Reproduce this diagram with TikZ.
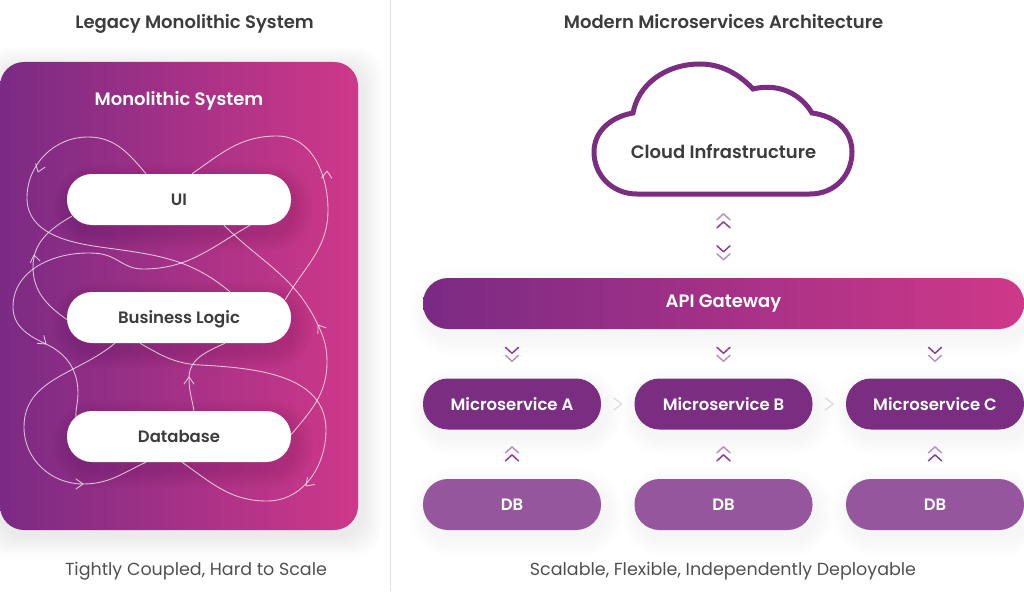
\documentclass[tikz,border=0pt]{standalone}
\usepackage{fontspec}
\setmainfont{Poppins}[BoldFont={Poppins SemiBold}]
\usetikzlibrary{calc,backgrounds}
\definecolor{plumL}{HTML}{7A2A84}
\definecolor{plumR}{HTML}{CF3889}
\definecolor{plum}{HTML}{7B2D82}
\definecolor{plumDB}{HTML}{95569E}
\definecolor{chevD}{HTML}{8A3E92}
\definecolor{chevL}{HTML}{BB90C2}
\definecolor{inkgray}{HTML}{3C3C3C}
\tikzset{
  level/.style={text height=14pt,text depth=2pt,inner sep=0pt},
  pill/.style={level,rounded corners=25pt,minimum height=51pt,font=\fontsize{16.5}{18}\selectfont\bfseries},
  whitepill/.style={pill,fill=white,text=inkgray,minimum width=224pt},
  servicepill/.style={pill,fill=plum,text=white,minimum width=178pt},
  dbpill/.style={pill,fill=plumDB,text=white,minimum width=178pt},
  headline/.style={level,font=\fontsize{18}{20}\selectfont\bfseries,text=inkgray},
  caption/.style={level,font=\fontsize{17.5}{20}\selectfont,text=inkgray!90},
  wave/.style={draw=white,opacity=.7,line width=.9pt},
  chevron/.style={line width=1.5pt,line cap=round,line join=round}
}
\begin{document}
\begin{tikzpicture}[x=1pt,y=-1pt]
  \useasboundingbox (0,0) rectangle (1024,591);
  \draw[black!12,line width=.8pt] (390.5,0)--(390.5,591);
  \node[headline] (lefttitle) at (194.5,23) {Legacy Monolithic System};
  \node[headline] (righttitle) at (723.5,23) {Modern Microservices Architecture};
  \node[caption] (leftnote) at (196,569) {Tightly Coupled, Hard to Scale};
  \node[caption] (rightnote) at (723,569) {Scalable, Flexible, Independently Deployable};
  \foreach \n/\y/\t in {ui/199.5/UI,logic/317.5/Business Logic,store/436.5/Database}{%
    \node[whitepill] (\n) at (179,\y) {\t};
  }
  \foreach \n/\x/\t in {msa/512/Microservice A,msb/723.5/Microservice B,msc/935/Microservice C}{%
    \node[servicepill] (\n) at (\x,404) {\t};
  }
  \foreach \n/\x in {dba/512,dbb/723.5,dbc/935}{%
    \node[dbpill] (\n) at (\x,504.5) {DB};
  }
  \node[pill,text height=12pt,text depth=4pt,font=\fontsize{18}{20}\selectfont\bfseries,minimum width=601pt,left color=plumL,right color=plumR,text=white] (gateway) at (723.5,303.5) {API Gateway};
  \draw[plum,line width=5pt,fill=white] (637,194)--(810,194)
    .. controls (835,194) and (852,175) .. (852,152)
    .. controls (852,130) and (835,116) .. (812,113)
    .. controls (800,93) and (778,83) .. (753,89)
    .. controls (738,73) and (720,64) .. (700,64)
    .. controls (665,64) and (638,85) .. (633,113)
    .. controls (610,117) and (594,132) .. (594,152)
    .. controls (594,175) and (612,194) .. (637,194)--cycle;
  \node[headline] (cloud) at (723.5,152) {Cloud Infrastructure};
  % chevrons
  \foreach \n in {msa,msb,msc}{%
    \begin{scope}[shift={(\n.north)}]
      \draw[chevron,chevD] (-6.5,-31)--(0,-25)--(6.5,-31);
      \draw[chevron,chevL] (-6.5,-23)--(0,-17)--(6.5,-23);
    \end{scope}
  }
  \foreach \n in {dba,dbb,dbc}{%
    \begin{scope}[shift={(\n.north)}]
      \draw[chevron,chevL] (-6.5,-26)--(0,-32)--(6.5,-26);
      \draw[chevron,chevD] (-6.5,-18)--(0,-24)--(6.5,-18);
    \end{scope}
  }
  \begin{scope}[shift={(gateway.north)}]
    \draw[chevron,chevL] (-6.5,-58)--(0,-64)--(6.5,-58);
    \draw[chevron,chevD] (-6.5,-50)--(0,-56)--(6.5,-50);
    \draw[chevron,chevD] (-6.5,-32)--(0,-26)--(6.5,-32);
    \draw[chevron,chevL] (-6.5,-24)--(0,-18)--(6.5,-24);
  \end{scope}
  \foreach \a/\b in {msa/msb,msb/msc}{%
    \coordinate (M) at ($(\a.east)!.5!(\b.west)$);
    \draw[black!14,line width=1.2pt,line cap=round,line join=round] ($(M)+(-4,-6)$)--($(M)+(4,0)$)--($(M)+(-4,6)$);
  }
  \begin{scope}[on background layer]
    \foreach \g in {2,4,...,20}{%
      \fill[black,opacity=.006,rounded corners=26pt] (-\g,62-\g+6) rectangle (358+\g+4,530+\g+6);
    }
    \node[rounded corners=24pt,inner sep=0pt,minimum width=358pt,minimum height=468pt,left color=plumL,right color=plumR] (panel) at (179,296) {};
    \node[level,font=\fontsize{18}{20}\selectfont\bfseries,text=white] (paneltitle) at (179,100) {Monolithic System};
    \foreach \n in {ui,logic,store}{%
      \foreach \g in {2,4,...,18}{%
        \fill[black,opacity=.008,rounded corners=25pt+\g pt] ($(\n.north west)+(-\g+4,-\g+8)$) rectangle ($(\n.south east)+(\g+4,\g+8)$);
      }
    }
    \foreach \n in {msa,msb,msc,dba,dbb,dbc,gateway}{%
      \foreach \g in {2,4,...,18}{%
        \fill[black,opacity=.005,rounded corners=25pt+\g pt] ($(\n.north west)+(-\g+4,-\g+8)$) rectangle ($(\n.south east)+(\g+4,\g+8)$);
      }
    }
    \foreach \c/\a/\dx/\dy in {U1/ui.north/-33/0,U2/ui.north/13/0,U3/ui.south west/5/-9,U4/ui.south/71/0,U5/ui.south/45/0,
      L1/logic.north/51/0,L2/logic.north east/-6/8,L3/logic.west/0/2,L6/logic.south/-64/0,L7/logic.south/-39/0,L8/logic.south/46/0,
      S4/store.north west/9/6,S5/store.east/0/-2,S6/store.south/-33/0,S7/store.south/3/0,S8/store.north/15/0}{%
      \coordinate (\c) at ($(\a)+(\dx,\dy)$);
    }
    \draw[wave] (U1) to[out=130,in=0] (88,137) to[out=180,in=90] (27,198) to[out=-90,in=172] (100,247) to[out=-8,in=140] (L1);
    \draw[wave] (U2) to[out=35,in=180] (277,136) to[out=0,in=90] (328,210) to[out=-90,in=60] (L2);
    \draw[wave] (U3) to[out=-150,in=90] (33,267) to[out=-90,in=145] (L3);
    \draw[wave] (U4) to[out=-150,in=0] (143,269) to[out=180,in=-30] (117,260) to[out=150,in=0] (88,253) to[out=180,in=90] (13,307) to[out=-90,in=155] (46,344) to[out=-25,in=90] (78,393) to[out=-90,in=90] (S4);
    \draw[wave] (U5) to[out=-45,in=115] (318,325) to[out=-65,in=90] (327,362) to[out=-90,in=50] (S5);
    \draw[wave] (L6) to[out=-140,in=90] (24,427) to[out=-90,in=180] (83,484) to[out=0,in=205] (S6);
    \draw[wave] (L7) to[out=-30,in=177] (200,365) to[out=-3,in=90] (326,430) to[out=-90,in=0] (267,501) to[out=180,in=-35] (S7);
    \draw[wave] (S8) to[out=100,in=-90] (189,378) to[out=90,in=205] (L8);
    \foreach \x/\y/\a in {38/172/-110,327/171/88,34/255/100,46/344/-40,318/325/125,83/484/0,306/486/-135,189/377/90}{%
      \draw[wave,line cap=round,line join=round,shift={(\x,\y)},rotate=\a] (-7,5)--(0,0)--(-7,-5);
    }
  \end{scope}
\end{tikzpicture}
\end{document}
